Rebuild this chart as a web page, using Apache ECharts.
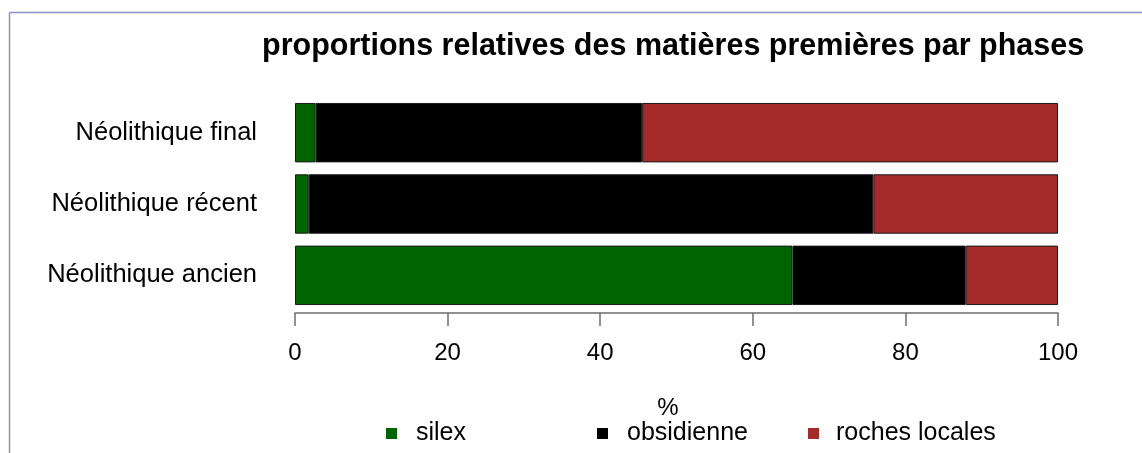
<!DOCTYPE html>
<html>
<head>
<meta charset="utf-8">
<script src="https://cdn.jsdelivr.net/npm/echarts@6/dist/echarts.min.js"></script>
<style>
  html, body { margin: 0; padding: 0; background: #fff; }
  #chart { width: 1142px; height: 453px; }
</style>
</head>
<body>
<div id="chart"></div>
<script>
// Phases, bottom to top
const phases = ['Néolithique ancien', 'Néolithique récent', 'Néolithique final'];
// Share of each raw material per phase (%)
const silex = [65.2, 1.8, 2.7];
const obsidienne = [22.7, 74.0, 42.8];
const rochesLocales = [12.1, 24.2, 54.5];
const materials = ['silex', 'obsidienne', 'roches locales'];
const materialColors = ['#006400', '#000000', '#A52A2A'];
const xTicks = { min: 0, max: 100, interval: 20 };

const FONT = '"Liberation Sans", Arial, sans-serif';
const chart = echarts.init(document.getElementById('chart'), null, { renderer: 'canvas' });

const seriesValues = [silex, obsidienne, rochesLocales];
const series = materials.map((name, i) => ({
  name: name,
  type: 'bar',
  stack: 'total',
  data: seriesValues[i],
  barCategoryGap: '16.7%',
  itemStyle: { color: materialColors[i], borderColor: '#1a1a1a', borderWidth: 1 },
  emphasis: { disabled: true }
}));

// One legend block per material so each key sits at its own spot
const legendLefts = [386, 597, 808];
const legendTextPad = [14, 14, 12];
const legends = materials.map((name, i) => ({
  data: [name],
  left: legendLefts[i],
  top: 421,
  padding: 0,
  icon: 'rect',
  itemWidth: 11,
  itemHeight: 11,
  itemStyle: { borderWidth: 0 },
  textStyle: { fontFamily: FONT, fontSize: 25, color: '#000', padding: [0, 0, 0, legendTextPad[i]] },
  selectedMode: false
}));

chart.setOption({
  animation: false,
  title: {
    text: 'proportions relatives des matières premières par phases',
    left: 257,
    top: 26,
    textStyle: { fontFamily: FONT, fontSize: 30.5, fontWeight: 'bold', color: '#000' }
  },
  legend: legends,
  grid: { left: 295, right: 84, top: 97, height: 214 },
  xAxis: {
    type: 'value',
    min: xTicks.min,
    max: xTicks.max,
    interval: xTicks.interval,
    offset: 2,
    name: '%',
    nameLocation: 'middle',
    nameGap: 83,
    nameTextStyle: { fontFamily: FONT, fontSize: 24, color: '#000', padding: [0, 17, 0, 0] },
    axisLine: { show: true, lineStyle: { color: '#6e6e6e', width: 1.5 } },
    axisTick: { show: true, length: 13, lineStyle: { color: '#6e6e6e', width: 1.5 } },
    axisLabel: { fontFamily: FONT, fontSize: 24, color: '#000', margin: 28 },
    splitLine: { show: false }
  },
  yAxis: {
    type: 'category',
    data: phases,
    axisLine: { show: false },
    axisTick: { show: false },
    axisLabel: { fontFamily: FONT, fontSize: 25.5, color: '#000', margin: 38 }
  },
  series: series,
  graphic: [
    {
      type: 'line',
      shape: { x1: 9.5, y1: 12.5, x2: 9.5, y2: 453 },
      style: { stroke: '#8c93c6', lineWidth: 1.5 },
      silent: true
    },
    {
      type: 'line',
      shape: { x1: 9.5, y1: 12.5, x2: 1142, y2: 12.5 },
      style: { stroke: '#8c93c6', lineWidth: 1.5 },
      silent: true
    }
  ]
});
</script>
</body>
</html>
